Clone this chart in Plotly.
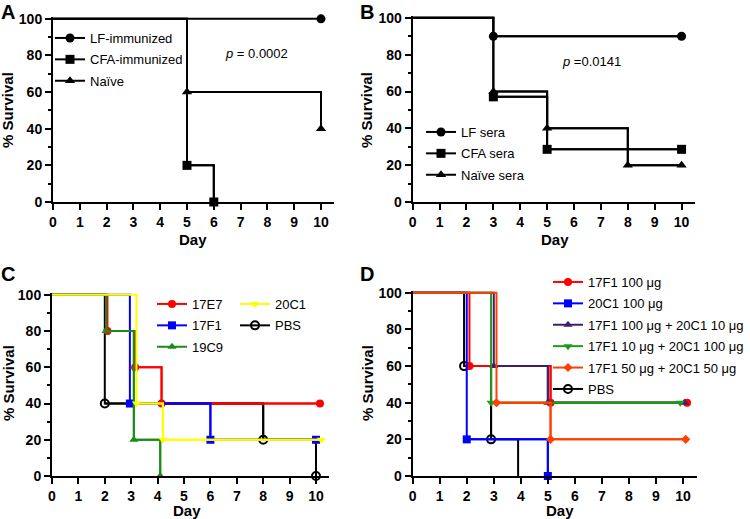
import plotly.graph_objects as go

W, H = 750, 519

# ---------------- data ----------------
# Panel A
a_names = ["LF-immunized", "CFA-immunized", "Naïve"]
a_days = [[0, 10], [0, 5, 6], [0, 5, 10]]
a_surv = [[100, 100], [100, 20, 0], [100, 60, 40]]
a_p = "<i>p</i> = 0.0002"

# Panel B
b_names = ["LF sera", "CFA sera", "Naïve sera"]
b_days = [[0, 3, 10], [0, 3, 5, 10], [0, 3, 5, 8, 10]]
b_surv = [[100, 90, 90], [100, 57.1, 28.6, 28.6], [100, 60, 40, 20, 20]]
b_p = "<i>p</i> =0.0141"

# Panel C
c_names = ["17E7", "17F1", "19C9", "20C1", "PBS"]
c_days = [[0, 2.1, 3.15, 4.15, 10.15], [0, 2.95, 6, 10], [0, 2.05, 3.1, 4.1],
          [0, 3.2, 4.2, 10.2], [0, 2, 8, 10]]
c_surv = [[100, 80, 60, 40, 40], [100, 40, 20, 20], [100, 80, 20, 0],
          [100, 40, 20, 20], [100, 40, 20, 0]]

# Panel D
d_names = ["17F1 100 μg", "20C1 100 μg", "17F1 100 μg + 20C1 10 μg",
           "17F1 10 μg + 20C1 100 μg", "17F1 50 μg + 20C1 50 μg", "PBS"]
d_days = [[0, 2.1, 5.1, 10.15], [0, 2.0, 5.0], [0, 3.0, 5.0, 10.05],
          [0, 2.9, 9.9], [0, 3.1, 5.1, 10.1], [0, 1.9, 2.9, 3.9]]
d_surv = [[100, 60, 40, 40], [100, 20, 0], [100, 60, 40, 40],
          [100, 40, 40], [100, 40, 20, 20], [100, 60, 20, 0]]
d_marker_end = [None, None, None, None, None, -1]  # PBS: no marker at last drop

day_ticks = list(range(0, 11))
surv_ticks = [0, 20, 40, 60, 80, 100]

# ---------------- styles ----------------
FONT = "Liberation Sans, Arial, sans-serif"
a_styles = [("black", "circle", 9), ("black", "square", 9), ("black", "triangle-up", 9)]
b_styles = a_styles
c_styles = [("#ff0000", "circle", 8), ("#0000ff", "square", 8), ("#1a8c1a", "triangle-up", 8),
            ("#ffff00", "triangle-down", 8), ("black", "circle-open", 8)]
d_styles = [("#ff0000", "circle", 8), ("#0000ff", "square", 8), ("#3e1f6e", "triangle-up", 8),
            ("#1e9a1e", "triangle-down", 8), ("#ff4000", "diamond", 7), ("black", "circle-open", 8)]


def px2x(p):
    return p / W


def px2y(p):
    return 1 - p / H


fig = go.Figure()

panels = [
    ("", a_names, a_days, a_surv, a_styles, (53, 334.4), (17, 202)),
    ("2", b_names, b_days, b_surv, b_styles, (412.7, 695), (16, 202)),
    ("3", c_names, c_days, c_surv, c_styles, (52, 329.2), (293, 476)),
    ("4", d_names, d_days, d_surv, d_styles, (412.7, 696.5), (291, 476)),
]

legend_of = {
    "": ["legend"] * 3,
    "2": ["legend2"] * 3,
    "3": ["legend3", "legend3", "legend3", "legend4", "legend4"],
    "4": ["legend5"] * 6,
}

for key, names, days, survs, styles, xd, yd in panels:
    xa = "x" + key
    ya = "y" + key
    order = list(range(len(names)))
    if key == "3":
        order = [4, 0, 1, 2, 3]
    if key == "4":
        order = [5, 0, 1, 2, 3, 4]
    for i in order:
        col, sym, msz = styles[i]
        grp = f"g{key}_{i}"
        fig.add_trace(go.Scatter(
            x=days[i], y=survs[i], mode="lines", line=dict(color=col, width=2, shape="hv"),
            xaxis=xa, yaxis=ya, showlegend=False, legendgroup=grp, hoverinfo="skip"))
        end = d_marker_end[i] if key == "4" else None
        mx = days[i][1:end]
        my = survs[i][1:end]
        mline = dict(color=col, width=2) if "open" in sym else dict(width=0)
        fig.add_trace(go.Scatter(
            x=mx, y=my, mode="lines+markers", name=names[i],
            line=dict(color=col, width=2, shape="hv"),
            marker=dict(symbol=sym, size=msz, color=col, line=mline),
            cliponaxis=False, xaxis=xa, yaxis=ya, legendgroup=grp,
            legend=legend_of[key][i], legendrank=i + 1))

    axis_common = dict(showline=True, linecolor="black", linewidth=2, showgrid=False,
                       zeroline=False, ticks="outside", ticklen=6, tickwidth=2, tickcolor="black",
                       automargin=False,
                       tickfont=dict(family=FONT, size=14, color="black", weight="bold"))
    fig.update_layout(**{
        "xaxis" + key: dict(domain=[px2x(xd[0]), px2x(xd[1])], range=[0, 10.5],
                            tickmode="array", tickvals=day_ticks, anchor=ya, **axis_common),
        "yaxis" + key: dict(domain=[px2y(yd[1]), px2y(yd[0])], range=[0, 101],
                            tickmode="array", tickvals=surv_ticks, anchor=xa,
                            minor=dict(tickvals=[10, 30, 50, 70, 90], ticks="outside",
                                       ticklen=3, tickwidth=2, tickcolor="black"),
                            **axis_common),
    })

leg_common = dict(font=dict(family=FONT, size=13, color="black"), bgcolor="rgba(0,0,0,0)",
                  borderwidth=0, itemwidth=30, xanchor="left", yanchor="top",
                  xref="container", yref="container",
                  traceorder="grouped", tracegroupgap=1.5, orientation="v", itemclick=False)
fig.update_layout(
    legend=dict(x=px2x(50), y=px2y(23), **leg_common),
    legend2=dict(x=px2x(421), y=px2y(117), **leg_common),
    legend3=dict(x=px2x(152), y=px2y(289), **leg_common),
    legend4=dict(x=px2x(235), y=px2y(289), **leg_common),
    legend5=dict(x=px2x(548), y=px2y(267), **leg_common),
)

annots = []
tfont = dict(family=FONT, size=15, color="black", weight="bold")
for (yx, yy, dx, dy) in [(8, 110, 193, 239), (367, 110, 555, 239),
                          (8, 383, 187, 510), (367, 383, 560, 510)]:
    annots.append(dict(text="% Survival", x=px2x(yx), y=px2y(yy), xref="paper", yref="paper",
                       textangle=-90, showarrow=False, font=tfont, xanchor="center", yanchor="middle"))
    annots.append(dict(text="Day", x=px2x(dx), y=px2y(dy), xref="paper", yref="paper",
                       showarrow=False, font=tfont, xanchor="center", yanchor="middle"))
for lab, lx, ly in [("A", 8, 12), ("B", 367, 12), ("C", 8, 274), ("D", 367, 274)]:
    annots.append(dict(text=lab, x=px2x(lx), y=px2y(ly), xref="paper", yref="paper",
                       showarrow=False, font=dict(family=FONT, size=20, color="black", weight="bold"),
                       xanchor="center", yanchor="middle"))
annots.append(dict(text=a_p, x=px2x(223), y=px2y(53), xref="paper", yref="paper", showarrow=False,
                   font=dict(family=FONT, size=13, color="black"), xanchor="left", yanchor="middle"))
annots.append(dict(text=b_p, x=px2x(560), y=px2y(62), xref="paper", yref="paper", showarrow=False,
                   font=dict(family=FONT, size=13, color="black"), xanchor="left", yanchor="middle"))

fig.update_layout(width=W, height=H, margin=dict(l=0, r=0, t=0, b=0, autoexpand=False),
                  paper_bgcolor="white", plot_bgcolor="white", annotations=annots,
                  font=dict(family=FONT, color="black"))

fig.write_html("out.html", config={"displayModeBar": False},
               post_script="document.body.style.margin='0';")
